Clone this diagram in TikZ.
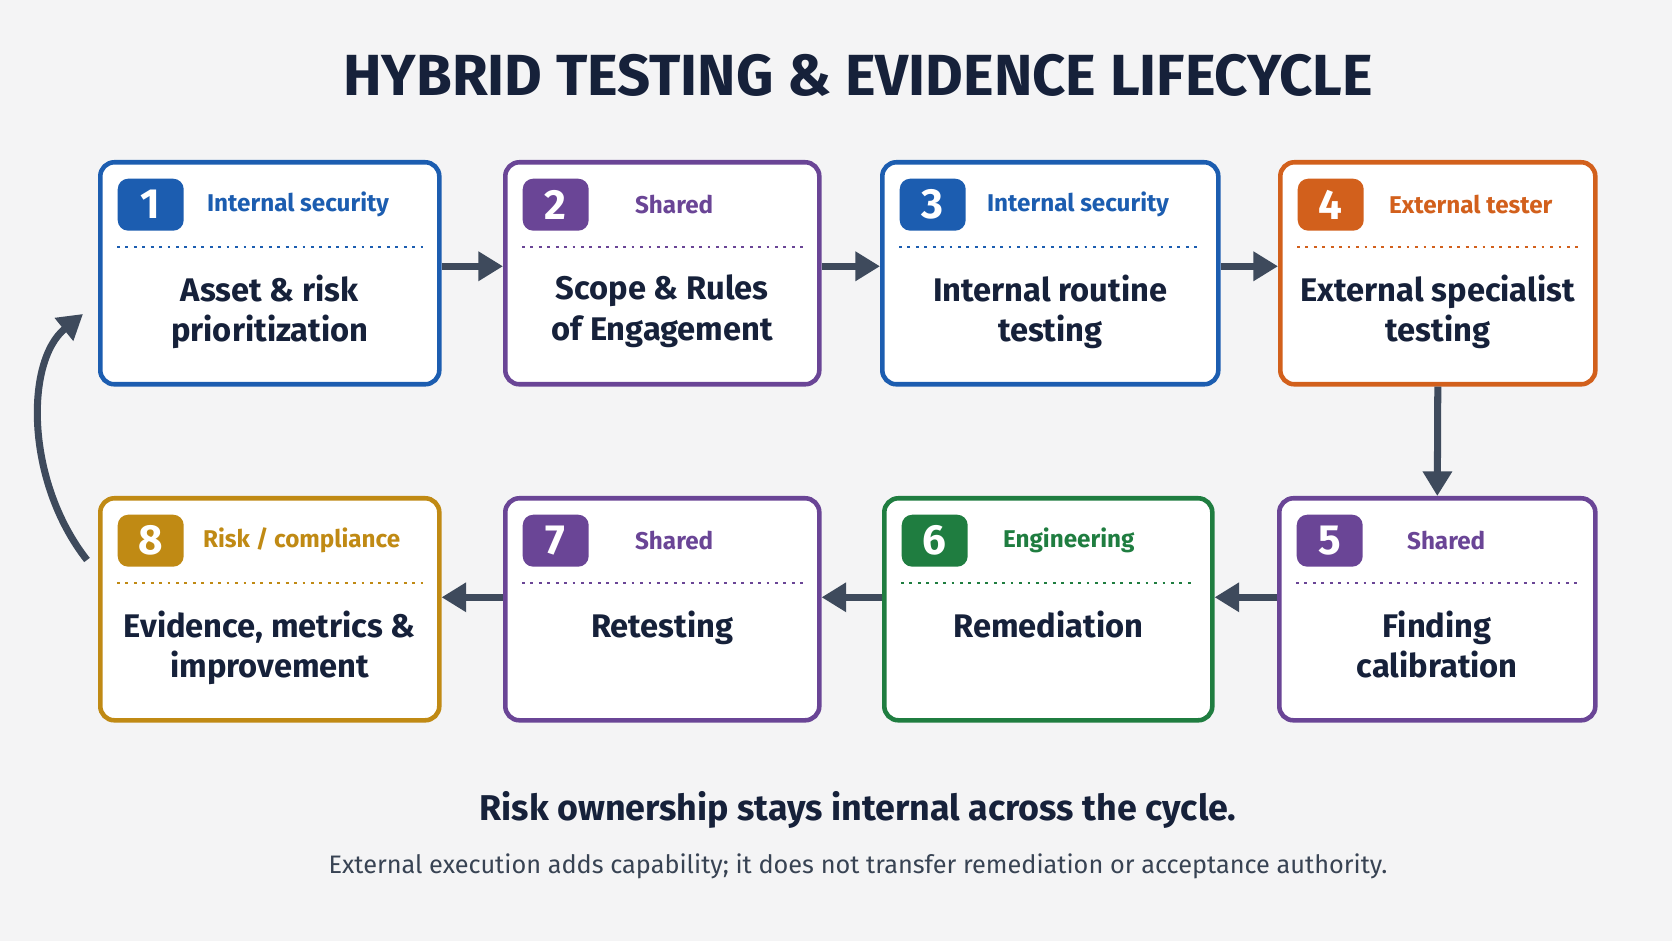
\documentclass[tikz,border=0pt]{standalone}
\usepackage{fontspec}
\setmainfont{Fira Sans}
\usetikzlibrary{arrows.meta,positioning}

\definecolor{bgc}{HTML}{F4F4F5}
\definecolor{ink}{HTML}{16213A}
\definecolor{arr}{HTML}{3E4A5C}
\definecolor{cblue}{HTML}{1C5DB0}
\definecolor{cpurp}{HTML}{6A4596}
\definecolor{corng}{HTML}{D2601C}
\definecolor{cgrn}{HTML}{1F7D40}
\definecolor{cgold}{HTML}{C08A14}

\tikzset{
  box/.style={draw=#1,line width=1.3pt,rounded corners=4pt,fill=white,inner sep=0pt},
  badge/.style={fill=#1,rounded corners=3pt,minimum width=0.66cm,minimum height=0.52cm,
    inner sep=0pt,text=white,font=\bfseries\fontsize{12}{12}\selectfont},
  tag/.style={text=#1,anchor=west,inner sep=0pt,font=\fontsize{6.9}{8}\selectfont\bfseries},
  main/.style={text=ink,align=center,anchor=north,inner sep=0pt,font=\fontsize{9.3}{11.6}\selectfont\bfseries},
  flow/.style={-{Triangle[length=7pt,width=8pt]},line width=2pt,draw=arr}
}

% \stage{name}{x left}{y top}{width}{colour}{number}{tag}{tag gap}{text}
\newcommand\stage[9]{%
  \node[box=#5,minimum width=#4cm,minimum height=2.22cm,anchor=north west] (#1) at (#2,#3) {};
  \node[badge=#5,anchor=north west] (#1b) at ([xshift=0.19cm,yshift=-0.18cm]#1.north west) {#6};
  \node[tag=#5] (#1t) at ([xshift=#8cm]#1b.east) {#7};
  \draw[#5,line width=0.8pt,dash pattern=on 0.8pt off 1.6pt]
    ([xshift=0.19cm,yshift=-0.87cm]#1.north west) -- ([xshift=-0.19cm,yshift=-0.87cm]#1.north east);
  \node[main] (#1m) at ([yshift=-1.14cm]#1.north) {#9};
}

\begin{document}
\begin{tikzpicture}
\fill[bgc] (0,0) rectangle (16.72,9.41);
\useasboundingbox (0,0) rectangle (16.72,9.41);

\node[text=ink,font=\fontsize{16.5}{20}\selectfont\bfseries] (title) at (8.58,8.66) {HYBRID TESTING \& EVIDENCE LIFECYCLE};

\stage{S1}{0.98}{7.81}{3.39}{cblue}{1}{Internal security}{0.22}{Asset \& risk\\prioritization}
\stage{S2}{5.03}{7.81}{3.14}{cpurp}{2}{Shared}{0.45}{Scope \& Rules\\of Engagement}
\stage{S3}{8.80}{7.81}{3.36}{cblue}{3}{Internal security}{0.20}{Internal routine\\testing}
\stage{S4}{12.78}{7.81}{3.15}{corng}{4}{External tester}{0.24}{External specialist\\testing}
\stage{S5}{12.77}{4.45}{3.16}{cpurp}{5}{Shared}{0.43}{Finding\\calibration}
\stage{S6}{8.82}{4.45}{3.28}{cgrn}{6}{Engineering}{0.34}{Remediation}
\stage{S7}{5.03}{4.45}{3.14}{cpurp}{7}{Shared}{0.45}{Retesting}
\stage{S8}{0.98}{4.45}{3.39}{cgold}{8}{Risk / compliance}{0.18}{Evidence, metrics \&\\improvement}

\draw[flow] ([yshift=0.07cm]S1.east) -- ([yshift=0.07cm]S2.west);
\draw[flow] ([yshift=0.07cm]S2.east) -- ([yshift=0.07cm]S3.west);
\draw[flow] ([yshift=0.07cm]S3.east) -- ([yshift=0.07cm]S4.west);
\draw[flow] (S4.south) -- (S5.north);
\draw[flow] ([yshift=0.12cm]S5.west) -- ([yshift=0.12cm]S6.east);
\draw[flow] ([yshift=0.12cm]S6.west) -- ([yshift=0.12cm]S7.east);
\draw[flow] ([yshift=0.12cm]S7.west) -- ([yshift=0.12cm]S8.east);

\coordinate (cs) at (0.87,3.81);
\coordinate (ce) at (0.83,6.27);
\draw[flow] (cs) .. controls (0.25,4.6) and (0.25,5.8) .. (ce);

\node[text=ink,font=\fontsize{10.2}{13}\selectfont\bfseries] (note) at (8.58,1.31) {Risk ownership stays internal across the cycle.};
\node[text=arr!90!black,font=\fontsize{7.2}{10}\selectfont] (sub) at (8.58,0.75) {External execution adds capability; it does not transfer remediation or acceptance authority.};
\end{tikzpicture}
\end{document}
